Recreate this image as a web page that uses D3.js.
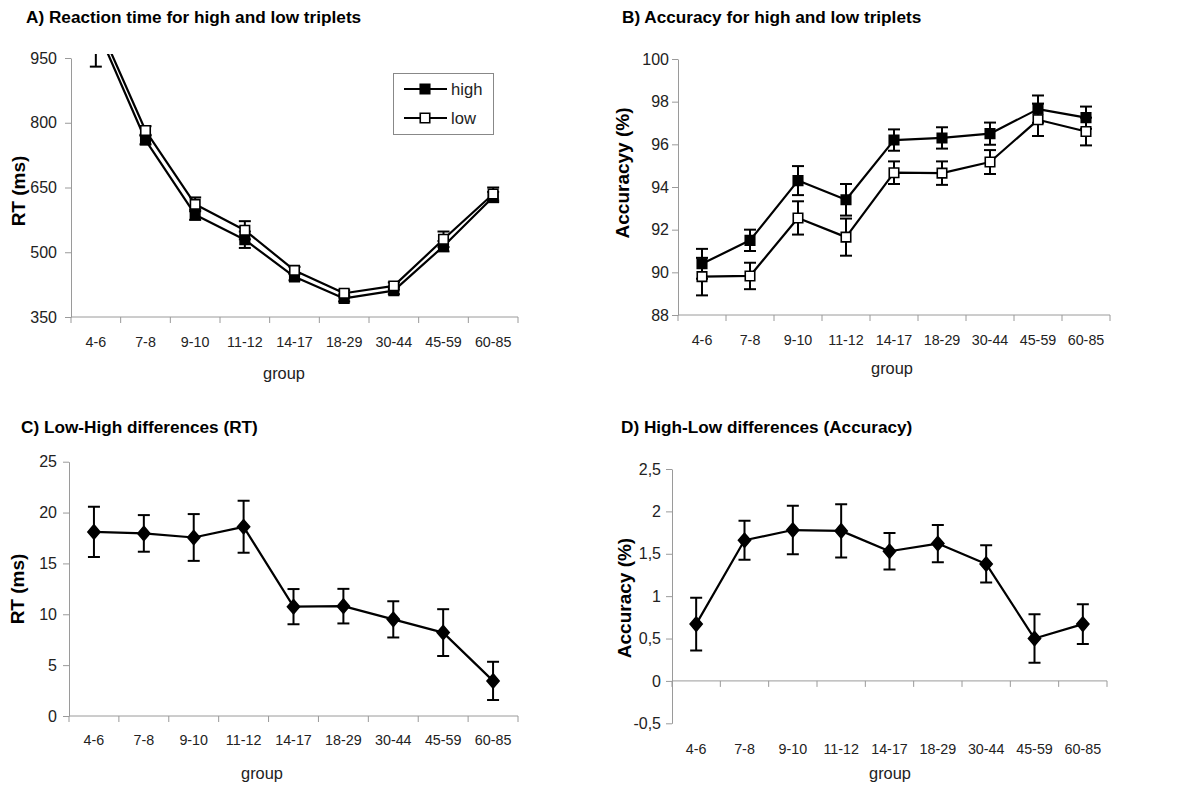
<!DOCTYPE html>
<html>
<head>
<meta charset="utf-8">
<script src="https://cdn.jsdelivr.net/npm/d3@7"></script>
<style>
  body { margin: 0; background: #fff; }
  svg { display: block; font-family: "Liberation Sans", Arial, sans-serif; }
</style>
</head>
<body>
<div id="chart"></div>
<script>
const groups = ["4-6", "7-8", "9-10", "11-12", "14-17", "18-29", "30-44", "45-59", "60-85"];

// A) reaction time (ms)
const rtHigh = [1024, 760, 587, 529, 443, 393, 411, 514, 628];
const rtHighErr = [94, 10, 12, 19, 8, 7, 8, 12, 12];
const rtLow = [1042, 782, 611, 551, 458, 405, 422, 530, 635];
const rtLowErr = [30, 10, 16, 21, 8, 7, 8, 18, 15];
const rtTicks = [350, 500, 650, 800, 950];

// B) accuracy (%)
const accHigh = [90.4, 91.5, 94.3, 93.4, 96.2, 96.3, 96.5, 97.65, 97.25];
const accHighErr = [0.7, 0.5, 0.68, 0.74, 0.5, 0.5, 0.52, 0.64, 0.52];
const accLow = [89.8, 89.83, 92.55, 91.65, 94.67, 94.65, 95.17, 97.15, 96.6];
const accLowErr = [0.88, 0.62, 0.78, 0.87, 0.53, 0.55, 0.56, 0.76, 0.65];
const accTicks = [88, 90, 92, 94, 96, 98, 100];

// C) low-high RT difference
const rtDiff = [18.1, 17.95, 17.55, 18.6, 10.75, 10.8, 9.5, 8.2, 3.45];
const rtDiffErr = [2.47, 1.8, 2.3, 2.55, 1.73, 1.7, 1.78, 2.3, 1.88];
const rtDiffTicks = [0, 5, 10, 15, 20, 25];

// D) high-low accuracy difference
const accDiff = [0.67, 1.66, 1.78, 1.77, 1.53, 1.62, 1.38, 0.5, 0.67];
const accDiffErr = [0.31, 0.23, 0.285, 0.315, 0.215, 0.22, 0.22, 0.285, 0.235];
const accDiffTicks = [-0.5, 0, 0.5, 1, 1.5, 2, 2.5];
const accDiffLabels = ["-0,5", "0", "0,5", "1", "1,5", "2", "2,5"];

const svg = d3.select("#chart")
    .append("svg")
    .attr("width", 1177)
    .attr("height", 785);

svg.append("rect").attr("width", 1177).attr("height", 785).attr("fill", "#fff");

const axisColor = "#9a9a9a";
const textColor = "#222";

// diamond marker a bit wider than d3's default
const wideDiamond = {
    draw(context, size) {
        const h = Math.sqrt(size) * 0.54, w = h * 0.86;
        context.moveTo(0, -h);
        context.lineTo(w, 0);
        context.lineTo(0, h);
        context.lineTo(-w, 0);
        context.closePath();
    }
};

function drawPanel(p, idx) {
    const x = d3.scaleBand().domain(groups).range([p.left, p.right]);
    const y = d3.scaleLinear().domain(p.domain).range([p.bottom, p.top]);
    const cx = g => x(g) + x.bandwidth() / 2;

    // y axis
    const ya = svg.append("g")
        .attr("transform", `translate(${p.left},0)`)
        .call(d3.axisLeft(y)
            .tickValues(p.ticks)
            .tickSize(6)
            .tickSizeOuter(0)
            .tickPadding(p.yPad)
            .tickFormat((d, i) => p.tickLabels ? p.tickLabels[i] : d));
    ya.select(".domain").attr("stroke", axisColor);
    ya.selectAll(".tick line").attr("stroke", axisColor);
    ya.selectAll("text")
        .attr("fill", textColor)
        .style("font-size", "16px")
        .style("font-family", "Liberation Sans, Arial, sans-serif");

    // x axis line (at the base value) with ticks between categories
    const axisY = y(p.base);
    svg.append("line")
        .attr("x1", p.left).attr("x2", p.right)
        .attr("y1", axisY).attr("y2", axisY)
        .attr("stroke", axisColor);
    const bounds = groups.map(g => x(g)).concat([x.range()[1]]);
    svg.selectAll(null)
        .data(bounds)
        .enter()
        .append("line")
        .attr("x1", d => d).attr("x2", d => d)
        .attr("y1", axisY).attr("y2", axisY + 6)
        .attr("stroke", axisColor);

    // category labels
    const xa = svg.append("g")
        .attr("transform", `translate(0,${p.bottom})`)
        .call(d3.axisBottom(x).tickSize(0).tickPadding(p.xPad));
    xa.select(".domain").remove();
    xa.selectAll("text")
        .attr("fill", textColor)
        .style("font-size", "14.3px")
        .style("font-family", "Liberation Sans, Arial, sans-serif");

    // title, axis labels
    svg.append("text")
        .attr("x", p.titleX).attr("y", p.titleY)
        .attr("dominant-baseline", "central")
        .style("font-size", "17.2px")
        .style("font-weight", "bold")
        .text(p.title);

    svg.append("text")
        .attr("transform", `translate(${p.ylabX},${p.ylabY}) rotate(-90)`)
        .attr("text-anchor", "middle")
        .attr("dominant-baseline", "central")
        .style("font-size", "19px")
        .style("font-weight", "bold")
        .text(p.yLabel);

    svg.append("text")
        .attr("x", p.groupX).attr("y", p.groupY)
        .attr("text-anchor", "middle")
        .attr("dominant-baseline", "central")
        .attr("fill", textColor)
        .style("font-size", "16.4px")
        .text("group");

    // clip so values above the axis max get cut off like the original
    const clipId = "clip" + idx;
    svg.append("clipPath").attr("id", clipId)
        .append("rect")
        .attr("x", p.left - 30).attr("y", p.top - 4)
        .attr("width", p.right - p.left + 60)
        .attr("height", p.bottom - p.top + 40);
    const plot = svg.append("g").attr("clip-path", `url(#${clipId})`);

    const line = d3.line().x(d => cx(d.g)).y(d => y(d.v));

    p.series.forEach(s => {
        const pts = groups.map((g, i) => ({ g: g, v: s.values[i], e: s.err[i] }));

        plot.append("path")
            .datum(pts)
            .attr("fill", "none")
            .attr("stroke", "#000")
            .attr("stroke-width", 2.2)
            .attr("stroke-linejoin", "round")
            .attr("d", line);

        const eb = plot.append("g")
            .attr("stroke", "#000")
            .attr("stroke-width", 2);
        eb.selectAll(".bar")
            .data(pts).enter().append("line")
            .attr("x1", d => cx(d.g)).attr("x2", d => cx(d.g))
            .attr("y1", d => y(d.v - d.e)).attr("y2", d => y(d.v + d.e));
        eb.selectAll(".capTop")
            .data(pts).enter().append("line")
            .attr("x1", d => cx(d.g) - 6).attr("x2", d => cx(d.g) + 6)
            .attr("y1", d => y(d.v + d.e)).attr("y2", d => y(d.v + d.e));
        eb.selectAll(".capBottom")
            .data(pts).enter().append("line")
            .attr("x1", d => cx(d.g) - 6).attr("x2", d => cx(d.g) + 6)
            .attr("y1", d => y(d.v - d.e)).attr("y2", d => y(d.v - d.e));

        const sym = d3.symbol()
            .type(s.shape === "diamond" ? wideDiamond : d3.symbolSquare)
            .size(s.shape === "diamond" ? 170 : 90);
        plot.selectAll(null)
            .data(pts).enter().append("path")
            .attr("transform", d => `translate(${cx(d.g)},${y(d.v)})`)
            .attr("d", sym)
            .attr("fill", s.fill)
            .attr("stroke", "#000")
            .attr("stroke-width", 1.6);
    });

    return { x, y };
}

drawPanel({
    title: "A) Reaction time for high and low triplets", titleX: 26, titleY: 17,
    yLabel: "RT (ms)", ylabX: 18, ylabY: 191,
    groupX: 284, groupY: 373,
    left: 71, right: 518, top: 58, bottom: 317,
    domain: [350, 950], base: 350, ticks: rtTicks, yPad: 8, xPad: 20,
    series: [
        { values: rtHigh, err: rtHighErr, fill: "#000", shape: "square" },
        { values: rtLow, err: rtLowErr, fill: "#fff", shape: "square" }
    ]
}, 0);

drawPanel({
    title: "B) Accuracy for high and low triplets", titleX: 622, titleY: 17,
    yLabel: "Accuracyy (%)", ylabX: 622, ylabY: 173,
    groupX: 892, groupY: 368,
    left: 678, right: 1110, top: 59, bottom: 315,
    domain: [88, 100], base: 88, ticks: accTicks, yPad: 3, xPad: 20,
    series: [
        { values: accHigh, err: accHighErr, fill: "#000", shape: "square" },
        { values: accLow, err: accLowErr, fill: "#fff", shape: "square" }
    ]
}, 1);

drawPanel({
    title: "C) Low-High differences (RT)", titleX: 21, titleY: 427,
    yLabel: "RT (ms)", ylabX: 17, ylabY: 589,
    groupX: 262, groupY: 773,
    left: 69, right: 518, top: 461.7, bottom: 716,
    domain: [0, 25], base: 0, ticks: rtDiffTicks, yPad: 6, xPad: 19,
    series: [
        { values: rtDiff, err: rtDiffErr, fill: "#000", shape: "diamond" }
    ]
}, 2);

drawPanel({
    title: "D) High-Low differences (Accuracy)", titleX: 621, titleY: 427,
    yLabel: "Accuracy (%)", ylabX: 624, ylabY: 598,
    groupX: 890, groupY: 773,
    left: 672, right: 1107, top: 469, bottom: 723.3,
    domain: [-0.5, 2.5], base: 0, ticks: accDiffTicks, tickLabels: accDiffLabels, yPad: 5, xPad: 21,
    series: [
        { values: accDiff, err: accDiffErr, fill: "#000", shape: "diamond" }
    ]
}, 3);

// legend for panel A
const legendItems = [
    { name: "high", fill: "#000" },
    { name: "low", fill: "#fff" }
];
const legend = svg.append("g");
legend.append("rect")
    .attr("x", 393.5).attr("y", 73.5)
    .attr("width", 100).attr("height", 61)
    .attr("fill", "#fff")
    .attr("stroke", "#888");
const li = legend.selectAll(".item")
    .data(legendItems)
    .enter().append("g")
    .attr("transform", (d, i) => `translate(0,${89 + i * 29})`);
li.append("line")
    .attr("x1", 404).attr("x2", 447)
    .attr("stroke", "#000").attr("stroke-width", 2.2);
li.append("path")
    .attr("transform", "translate(425,0)")
    .attr("d", d3.symbol().type(d3.symbolSquare).size(90))
    .attr("fill", d => d.fill)
    .attr("stroke", "#000")
    .attr("stroke-width", 1.6);
li.append("text")
    .attr("x", 451)
    .attr("dominant-baseline", "central")
    .attr("fill", textColor)
    .style("font-size", "16.6px")
    .text(d => d.name);
</script>
</body>
</html>
